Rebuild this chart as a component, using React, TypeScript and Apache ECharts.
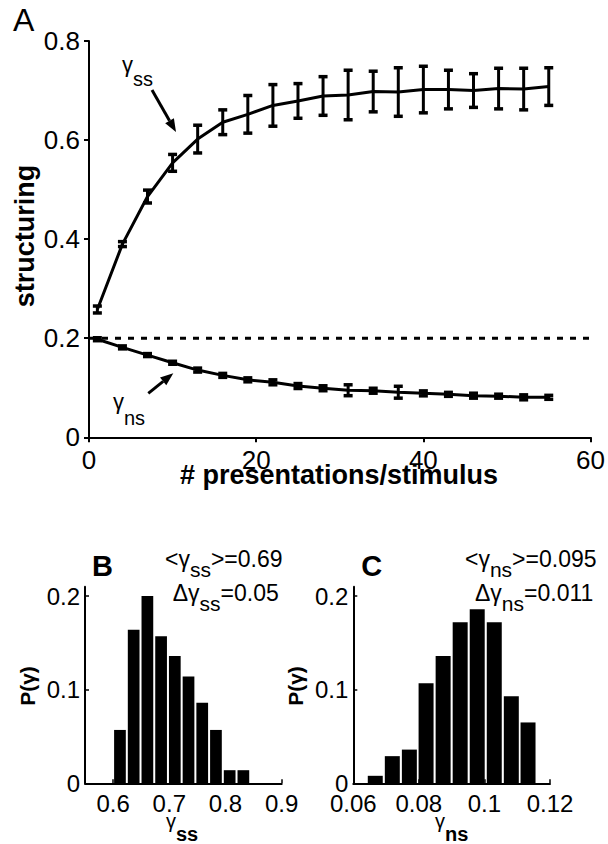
import React, { useEffect, useRef } from 'react';
import * as echarts from 'echarts';

// ---------- data ----------
const presentations = [1, 4, 7, 10, 13, 16, 19, 22, 25, 28, 31, 34, 37, 40, 43, 46, 49, 52, 55];
const gammaSSMean = [0.258, 0.39, 0.486, 0.554, 0.602, 0.636, 0.652, 0.67, 0.679, 0.689, 0.691, 0.698, 0.697, 0.702, 0.702, 0.7, 0.704, 0.703, 0.708];
const gammaSSErr = [0.007, 0.005, 0.013, 0.017, 0.028, 0.025, 0.038, 0.042, 0.035, 0.039, 0.05, 0.041, 0.049, 0.047, 0.039, 0.034, 0.041, 0.042, 0.038];
const gammaNSMean = [0.198, 0.1815, 0.166, 0.1505, 0.1357, 0.125, 0.116, 0.111, 0.1035, 0.099, 0.095, 0.094, 0.091, 0.0887, 0.0867, 0.084, 0.083, 0.0807, 0.0807];
const gammaNSErr = [0.003, 0.003, 0.003, 0.003, 0.004, 0.004, 0.004, 0.005, 0.005, 0.005, 0.011, 0.005, 0.012, 0.005, 0.004, 0.005, 0.004, 0.005, 0.004];
const chanceLevel = 0.2;
const presentationsRange = [0, 60];

const ssBinCenters = [0.6122, 0.6366, 0.661, 0.6854, 0.7098, 0.7342, 0.7586, 0.783, 0.8074, 0.8318];
const ssBinWidth = 0.0244;
const ssProb = [0.057, 0.164, 0.2, 0.157, 0.136, 0.114, 0.086, 0.057, 0.014, 0.014];

const nsBinCenters = [0.0667, 0.0719, 0.0771, 0.0822, 0.0874, 0.0926, 0.0978, 0.103, 0.1082, 0.1133];
const nsBinWidth = 0.00518;
const nsProb = [0.008, 0.029, 0.036, 0.107, 0.136, 0.172, 0.186, 0.172, 0.093, 0.065];

const bXTicks = [0.6, 0.7, 0.8, 0.9];
const cXTicks = [0.06, 0.08, 0.1, 0.12];
const histYTicks = [0, 0.1, 0.2];

// ---------- styling ----------
const FONT = "'Liberation Sans', Arial, Helvetica, sans-serif";
const BLACK = '#000';
const axisLine = { show: true, onZero: false, lineStyle: { color: BLACK, width: 2 } };

function errorBarRender(params: any, api: any) {
  const x = api.value(0);
  const y = api.value(1);
  const e = api.value(2);
  const top = api.coord([x, y + e]);
  const bot = api.coord([x, y - e]);
  const hw = 4.5;
  const st = { stroke: BLACK, lineWidth: 3 };
  const cap = { stroke: BLACK, lineWidth: 3.5 };
  return {
    type: 'group',
    children: [
      { type: 'line', shape: { x1: top[0], y1: top[1], x2: bot[0], y2: bot[1] }, style: st },
      { type: 'line', shape: { x1: top[0] - hw, y1: top[1], x2: top[0] + hw, y2: top[1] }, style: cap },
      { type: 'line', shape: { x1: bot[0] - hw, y1: bot[1], x2: bot[0] + hw, y2: bot[1] }, style: cap },
    ],
  };
}

function histRender(width: number) {
  return (params: any, api: any) => {
    const c = api.value(0);
    const h = api.value(1);
    const p0 = api.coord([c - width / 2, h]);
    const p1 = api.coord([c + width / 2, 0]);
    return {
      type: 'rect',
      shape: { x: p0[0] + 1, y: p0[1], width: p1[0] - p0[0] - 2, height: p1[1] - p0[1] },
      style: { fill: BLACK },
    };
  };
}

function arrow(tail: number[], tip: number[], L = 13, W = 10) {
  const dx = tip[0] - tail[0];
  const dy = tip[1] - tail[1];
  const len = Math.sqrt(dx * dx + dy * dy);
  const ux = dx / len;
  const uy = dy / len;
  const bx = tip[0] - L * ux;
  const by = tip[1] - L * uy;
  const nx = -uy;
  const ny = ux;
  return [
    { type: 'line', shape: { x1: tail[0], y1: tail[1], x2: bx, y2: by }, style: { stroke: BLACK, lineWidth: 3 } },
    {
      type: 'polygon',
      shape: { points: [tip, [bx + (W / 2) * nx, by + (W / 2) * ny], [bx - (W / 2) * nx, by - (W / 2) * ny]] },
      style: { fill: BLACK },
    },
  ];
}

function subText(x: number, y: number, main1: string, sub: string, main2: string, mSize: number, sSize: number, pad: number, subBold = false) {
  const parts = `{m|${main1}}{s|${sub}}` + (main2 ? `{m|${main2}}` : '');
  return {
    type: 'text',
    x,
    y,
    style: {
      text: parts,
      align: 'left',
      verticalAlign: 'top',
      rich: {
        m: { fontSize: mSize, fontFamily: FONT, fill: BLACK, verticalAlign: 'top' },
        s: { fontSize: sSize, fontFamily: FONT, fill: BLACK, verticalAlign: 'top', padding: [pad, 0, 0, 0], fontWeight: subBold ? 'bold' : 'normal' },
      },
    },
  };
}

function plainText(x: number, y: number, text: string, size: number, bold: boolean, rotation = 0, align = 'center') {
  return {
    type: 'text',
    x,
    y,
    rotation,
    style: {
      text,
      fontSize: size,
      fontFamily: FONT,
      fontWeight: bold ? 'bold' : 'normal',
      fill: BLACK,
      align,
      verticalAlign: 'middle',
    },
  };
}

export default function App() {
  const ref = useRef<HTMLDivElement>(null);
  useEffect(() => {
    if (!ref.current) return;
    const chart = echarts.init(ref.current, null, { renderer: 'svg' });
    const tickLabel = (size: number, margin: number, custom?: number[]) => {
      const o: any = { fontSize: size, color: BLACK, fontFamily: FONT, margin };
      if (custom) o.customValues = custom;
      return o;
    };
    const option: any = {
      animation: false,
      backgroundColor: '#fff',
      grid: [
        { left: 89, top: 41, width: 503, height: 396.3 },
        { left: 85, top: 586.7, width: 196.7, height: 196.6 },
        { left: 353.3, top: 586.7, width: 196.7, height: 196.6 },
      ],
      xAxis: [
        {
          gridIndex: 0, type: 'value', min: presentationsRange[0], max: presentationsRange[1], interval: 20,
          axisLine, axisTick: { show: true, length: 5, lineStyle: { color: BLACK, width: 2 } },
          axisLabel: tickLabel(26, 10), splitLine: { show: false },
        },
        {
          gridIndex: 1, type: 'value', min: 0.55, max: 0.9,
          axisLine, axisTick: { show: true, inside: true, length: 4, customValues: bXTicks, lineStyle: { color: BLACK, width: 1.5 } },
          axisLabel: tickLabel(24, 8, bXTicks), splitLine: { show: false },
        },
        {
          gridIndex: 2, type: 'value', min: 0.06, max: 0.12,
          axisLine, axisTick: { show: true, inside: true, length: 4, customValues: cXTicks, lineStyle: { color: BLACK, width: 1.5 } },
          axisLabel: tickLabel(24, 8, cXTicks), splitLine: { show: false },
        },
      ],
      yAxis: [
        {
          gridIndex: 0, type: 'value', min: 0, max: 0.8, interval: 0.2,
          axisLine, axisTick: { show: true, length: 5, lineStyle: { color: BLACK, width: 2 } },
          axisLabel: tickLabel(26, 9), splitLine: { show: false },
        },
        {
          gridIndex: 1, type: 'value', min: 0, max: 0.21,
          axisLine, axisTick: { show: true, inside: true, length: 4, customValues: histYTicks, lineStyle: { color: BLACK, width: 1.5 } },
          axisLabel: tickLabel(24, 5, histYTicks), splitLine: { show: false },
        },
        {
          gridIndex: 2, type: 'value', min: 0, max: 0.21,
          axisLine, axisTick: { show: true, inside: true, length: 4, customValues: histYTicks, lineStyle: { color: BLACK, width: 1.5 } },
          axisLabel: tickLabel(24, 5, histYTicks), splitLine: { show: false },
        },
      ],
      series: [
        {
          type: 'line', xAxisIndex: 0, yAxisIndex: 0,
          data: presentationsRange.map((x) => [x, chanceLevel]),
          symbol: 'none', lineStyle: { color: BLACK, width: 3, type: [6, 7] }, z: 1,
        },
        {
          type: 'line', xAxisIndex: 0, yAxisIndex: 0,
          data: presentations.map((x, i) => [x, gammaSSMean[i]]),
          symbol: 'none', lineStyle: { color: BLACK, width: 3 }, z: 2,
        },
        {
          type: 'line', xAxisIndex: 0, yAxisIndex: 0,
          data: presentations.map((x, i) => [x, gammaNSMean[i]]),
          symbol: 'none', lineStyle: { color: BLACK, width: 3 }, z: 2,
        },
        {
          type: 'custom', xAxisIndex: 0, yAxisIndex: 0,
          data: presentations.map((x, i) => [x, gammaSSMean[i], gammaSSErr[i]]),
          renderItem: errorBarRender, z: 3,
        },
        {
          type: 'custom', xAxisIndex: 0, yAxisIndex: 0,
          data: presentations.map((x, i) => [x, gammaNSMean[i], gammaNSErr[i]]),
          renderItem: errorBarRender, z: 3,
        },
        {
          type: 'custom', xAxisIndex: 1, yAxisIndex: 1,
          data: ssBinCenters.map((c, i) => [c, ssProb[i]]),
          renderItem: histRender(ssBinWidth), z: 1,
        },
        {
          type: 'custom', xAxisIndex: 2, yAxisIndex: 2,
          data: nsBinCenters.map((c, i) => [c, nsProb[i]]),
          renderItem: histRender(nsBinWidth), z: 1,
        },
      ],
      graphic: [
        plainText(13, 20, 'A', 32, false, 0, 'left'),
        plainText(25, 236, 'structuring', 27, true, Math.PI / 2),
        plainText(339, 475, '# presentations/stimulus', 27, true),
        subText(122, 53, 'γ', 'ss', '', 22, 20, 16),
        subText(113, 390, 'γ', 'ns', '', 22, 20, 18),
        ...arrow([152, 90], [176, 132]),
        ...arrow([148.3, 393.3], [173.3, 373.3]),
        plainText(102.5, 566, 'B', 29, true),
        plainText(371.7, 566, 'C', 29, true),
        subText(165, 547, '<γ', 'ss', '>=0.69', 23, 21, 12),
        subText(172.7, 581, 'Δγ', 'ss', '=0.05', 23, 21, 12),
        subText(465, 547, '<γ', 'ns', '>=0.095', 23, 21, 12),
        subText(475, 581, 'Δγ', 'ns', '=0.011', 23, 21, 12),
        plainText(27.5, 686, 'P(γ)', 21, true, Math.PI / 2),
        plainText(295, 686, 'P(γ)', 21, true, Math.PI / 2),
        subText(166, 811, 'γ', 'ss', '', 20, 20, 13, true),
        subText(435, 811, 'γ', 'ns', '', 20, 20, 13, true),
      ],
    };
    chart.setOption(option);
    return () => chart.dispose();
  }, []);
  return (
    <div
      ref={ref}
      style={{ position: 'absolute', left: 0, top: 0, width: 608, height: 844, background: '#fff' }}
    />
  );
}
